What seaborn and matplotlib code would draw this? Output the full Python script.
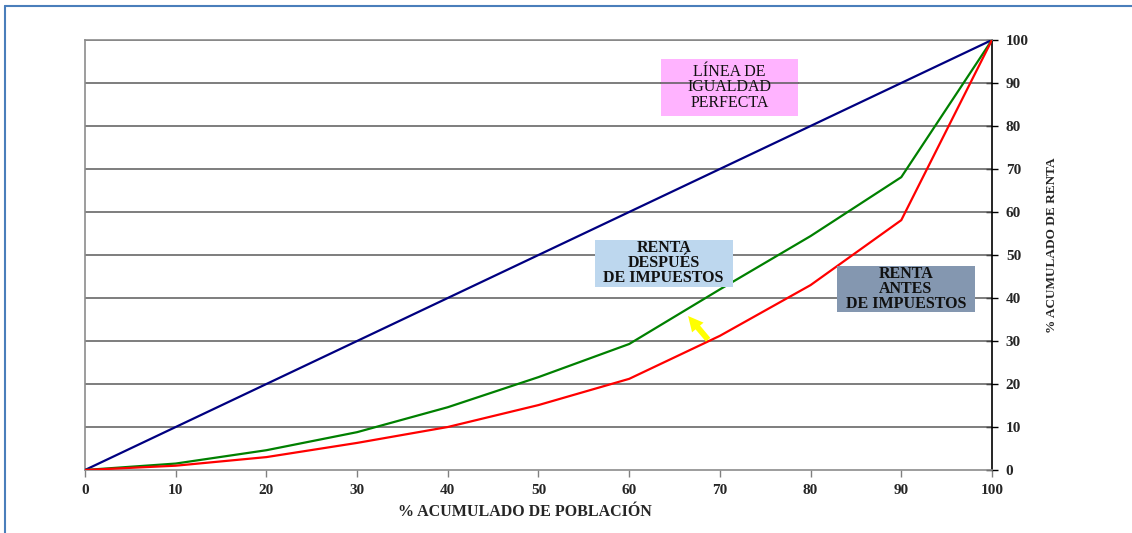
import matplotlib
matplotlib.use("Agg")
import matplotlib.pyplot as plt
from matplotlib.lines import Line2D
from matplotlib.patches import Rectangle
import seaborn as sns
import pandas as pd

# Cumulative population share (%)
poblacion = [0, 10, 20, 30, 40, 50, 60, 70, 80, 90, 100]
# Cumulative income share (%) for each curve
igualdad = [0, 10, 20, 30, 40, 50, 60, 70, 80, 90, 100]
despues = [0, 1.5, 4.6, 8.8, 14.6, 21.6, 29.3, 42.0, 54.4, 68.1, 100]
antes = [0, 1.0, 3.0, 6.3, 10.0, 15.1, 21.2, 31.2, 43.0, 58.1, 100]

series_names = ["igualdad", "despues", "antes"]
series_colors = {"igualdad": "#000080", "despues": "#008000", "antes": "#FF0000"}

x_ticks = [0, 10, 20, 30, 40, 50, 60, 70, 80, 90, 100]
y_ticks = [0, 10, 20, 30, 40, 50, 60, 70, 80, 90, 100]

df = pd.DataFrame({
    "poblacion": poblacion * 3,
    "renta": igualdad + despues + antes,
    "serie": [s for s in series_names for _ in poblacion],
})

sns.set_theme(style="white")
plt.rcParams["font.family"] = ["Liberation Serif", "DejaVu Serif"]

fig = plt.figure(figsize=(11.32, 5.33), dpi=100)
ax = fig.add_axes([0.0751, 0.1182, 0.8012, 0.8068])

# Horizontal grid
for yv in y_ticks[1:]:
    ax.axhline(yv, color="#5a5a5a", lw=1.1, zorder=1)

sns.lineplot(data=df, x="poblacion", y="renta", hue="serie",
             palette=series_colors, hue_order=series_names,
             linewidth=1.6, legend=False, ax=ax, zorder=3)

ax.set_xlim(0, 100)
ax.set_ylim(0, 100)
ax.set_xticks(x_ticks)
ax.set_yticks(y_ticks)
ax.yaxis.tick_right()
ax.yaxis.set_label_position("right")
ax.tick_params(axis="y", direction="inout", length=8, width=1, color="black",
               labelsize=11, pad=6, right=True, left=False)
ax.tick_params(axis="x", direction="out", length=5, width=1, color="#808080",
               labelsize=11, pad=5, bottom=True)
for lbl in ax.get_xticklabels() + ax.get_yticklabels():
    lbl.set_fontweight("bold")

for side in ["left", "top", "bottom"]:
    ax.spines[side].set_color("#8c8c8c")
    ax.spines[side].set_linewidth(1.2)
ax.spines["right"].set_color("black")
ax.spines["right"].set_linewidth(1.2)

ax.set_xlabel("% ACUMULADO DE POBLACIÓN", fontsize=11.5, fontweight="bold")
ax.xaxis.set_label_coords(0.485, -0.078)
ax.set_ylabel("% ACUMULADO DE RENTA", fontsize=9.5, fontweight="bold",
              rotation=90)
ax.yaxis.set_label_coords(1.060, 0.523)

# Text boxes
def caja(x0, x1, y0, y1, color, texto, weight):
    ax.add_patch(Rectangle((x0, y0), x1 - x0, y1 - y0, facecolor=color,
                           edgecolor="none", zorder=4))
    ax.text((x0 + x1) / 2, (y0 + y1) / 2, texto, ha="center", va="center",
            fontsize=11.5, fontweight=weight, linespacing=0.92, color="#111111",
            zorder=5)

caja(63.5, 78.6, 82.3, 95.6, "#FFB3FF", "LÍNEA DE\nIGUALDAD\nPERFECTA", "normal")
ax.axhline(90, xmin=0.635, xmax=0.786, color="#5a5a5a", lw=1.1, zorder=4.5)
caja(56.2, 71.4, 42.6, 53.5, "#BDD7EE", "RENTA\nDESPUÉS\nDE IMPUESTOS", "bold")
caja(82.9, 98.1, 36.7, 47.4, "#8497B0", "RENTA\nANTES\nDE IMPUESTOS", "bold")

ax.annotate("", xy=(66.3, 36.3), xytext=(68.9, 29.8),
            arrowprops=dict(arrowstyle="simple,head_length=0.9,head_width=0.9,tail_width=0.35",
                            facecolor="#FFFF00", edgecolor="none"),
            zorder=6)

# Outer frame (top and left edges)
fig.add_artist(Line2D([0.004, 1.0], [0.988, 0.988], transform=fig.transFigure,
                      color="#4a7ebb", lw=1.5))
fig.add_artist(Line2D([0.004, 0.004], [0.0, 0.988], transform=fig.transFigure,
                      color="#4a7ebb", lw=1.5))

fig.savefig("out.png", dpi=100, facecolor="white")
